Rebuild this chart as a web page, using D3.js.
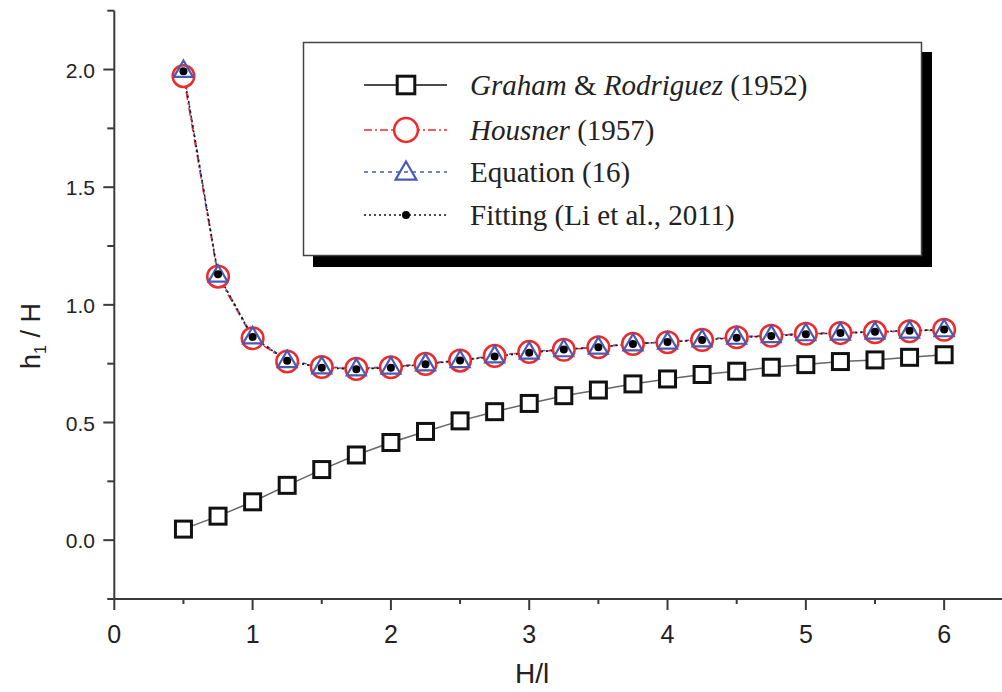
<!DOCTYPE html>
<html><head><meta charset="utf-8">
<script src="https://cdn.jsdelivr.net/npm/d3@7"></script>
<style>body{margin:0;background:#fff} svg{display:block}</style>
</head><body><svg id="c" width="1002" height="692"></svg>
<script>
// ---- data ----
const xValues   = [0.5,0.75,1.0,1.25,1.5,1.75,2.0,2.25,2.5,2.75,3.0,3.25,3.5,3.75,4.0,4.25,4.5,4.75,5.0,5.25,5.5,5.75,6.0];
const graham    = [0.047,0.102,0.163,0.233,0.300,0.362,0.415,0.462,0.507,0.546,0.581,0.614,0.638,0.664,0.685,0.704,0.718,0.735,0.746,0.759,0.766,0.777,0.788];
const housner   = [1.972,1.120,0.858,0.759,0.736,0.728,0.735,0.749,0.763,0.783,0.800,0.809,0.820,0.834,0.841,0.851,0.862,0.869,0.877,0.880,0.884,0.888,0.894];
const equation16= [1.998,1.128,0.866,0.765,0.738,0.730,0.737,0.751,0.765,0.785,0.801,0.811,0.822,0.836,0.843,0.853,0.864,0.871,0.879,0.882,0.886,0.890,0.896];
const fitting   = [1.993,1.130,0.863,0.762,0.733,0.726,0.733,0.748,0.764,0.781,0.796,0.810,0.820,0.834,0.842,0.851,0.860,0.868,0.875,0.880,0.886,0.890,0.895];
const xTicks = [0,1,2,3,4,5,6];
const xMinorTicks = [0.5,1.5,2.5,3.5,4.5,5.5];
const yTicks = [0,0.5,1.0,1.5,2.0];
const yMinorTicks = [-0.25,0.25,0.75,1.25,1.75,2.25];
const legendLabels = [
  [["Graham",true],[" & ",false],["Rodriguez",true],[" (1952)",false]],
  [["Housner",true],[" (1957)",false]],
  [["Equation (16)",false]],
  [["Fitting (Li et al., 2011)",false]]
];
const xTitle = "H/l";

// ---- layout ----
const svg = d3.select("#c");
const x = d3.scaleLinear().domain([0,6.5]).range([114.3,1013.3]);
const y = d3.scaleLinear().domain([-0.25,2.25]).range([599,10.7]);
const AX = "#3a3a3a";

const series = [
  {vals:graham, color:"#666", dash:null, w:1.5, marker:"square"},
  {vals:housner, color:"#ee2a2a", dash:"8,3,2,3", w:1.5, marker:"circle"},
  {vals:equation16, color:"#4a5ab5", dash:"4,4", w:1.5, marker:"triangle"},
  {vals:fitting, color:"#111", dash:"2,3", w:1.5, marker:"dot"}
];

function triPath(s){const h=s*0.866;return `M0,${-h*0.58}L${s/2},${h*0.42}L${-s/2},${h*0.42}Z`;}
function drawMarker(g, type, cx, cy, big){
  const k = big?1.1:1;
  if(type==="square"){
    g.append("rect").attr("x",cx-8*k).attr("y",cy-8*k).attr("width",16*k).attr("height",16*k)
      .attr("fill","#fff").attr("stroke","#111").attr("stroke-width",3);
  } else if(type==="circle"){
    g.append("circle").attr("cx",cx).attr("cy",cy).attr("r",10.8*k)
      .attr("fill","#fff").attr("stroke","#ee2a2a").attr("stroke-width",2.5);
  } else if(type==="triangle"){
    g.append("path").attr("d",triPath(19*k)).attr("transform",`translate(${cx},${cy})`)
      .attr("fill","none").attr("stroke","#4a5ab5").attr("stroke-width",2.2);
  } else {
    g.append("circle").attr("cx",cx).attr("cy",cy).attr("r",4)
      .attr("fill","#000");
  }
}

// axes lines
const axG = svg.append("g");
axG.append("line").attr("x1",x(0)).attr("x2",1002).attr("y1",y(-0.25)).attr("y2",y(-0.25)).attr("stroke",AX).attr("stroke-width",2);
axG.append("line").attr("x1",x(0)).attr("x2",x(0)).attr("y1",y(2.25)).attr("y2",y(-0.25)).attr("stroke",AX).attr("stroke-width",2);

// x ticks
axG.selectAll(".xt").data(xTicks).join("line").attr("x1",d=>x(d)).attr("x2",d=>x(d))
  .attr("y1",y(-0.25)).attr("y2",y(-0.25)+11).attr("stroke",AX).attr("stroke-width",2);
axG.selectAll(".xm").data(xMinorTicks).join("line").attr("x1",d=>x(d)).attr("x2",d=>x(d))
  .attr("y1",y(-0.25)).attr("y2",y(-0.25)+5).attr("stroke",AX).attr("stroke-width",2);
axG.selectAll(".xl").data(xTicks).join("text").attr("x",d=>x(d)).attr("y",643)
  .attr("text-anchor","middle").attr("font-family","Liberation Sans, Arial, sans-serif")
  .attr("font-size",25).attr("fill","#222").text(d=>d);

// y ticks
axG.selectAll(".yt").data(yTicks).join("line").attr("x1",x(0)-11).attr("x2",x(0))
  .attr("y1",d=>y(d)).attr("y2",d=>y(d)).attr("stroke",AX).attr("stroke-width",2);
axG.selectAll(".ym").data(yMinorTicks).join("line").attr("x1",x(0)-7).attr("x2",x(0))
  .attr("y1",d=>y(d)).attr("y2",d=>y(d)).attr("stroke",AX).attr("stroke-width",2);
axG.selectAll(".yl").data(yTicks).join("text").attr("x",95).attr("y",d=>y(d)+8)
  .attr("text-anchor","end").attr("font-family","Liberation Sans, Arial, sans-serif")
  .attr("font-size",21).attr("fill","#222").text(d=>d.toFixed(1));

// axis titles
svg.append("text").attr("x",x(3)+3).attr("y",683).attr("text-anchor","middle")
  .attr("font-family","Liberation Sans, Arial, sans-serif").attr("font-size",28).attr("fill","#222").text(xTitle);
const yt = svg.append("text").attr("transform",`translate(40,336) rotate(-90)`).attr("text-anchor","middle")
  .attr("font-family","Liberation Sans, Arial, sans-serif").attr("font-size",27).attr("fill","#222");
yt.append("tspan").text("h");
yt.append("tspan").attr("font-size",16).attr("dy",6).text("1");
yt.append("tspan").attr("dy",-6).text(" / H");

// lines
const line = d3.line().x((d,i)=>x(xValues[i])).y(d=>y(d));
const plotG = svg.append("g");
series.forEach(s=>{
  plotG.append("path").datum(s.vals).attr("d",line).attr("fill","none")
    .attr("stroke",s.color).attr("stroke-width",s.w).attr("stroke-dasharray",s.dash);
});
series.forEach(s=>{
  const g = plotG.append("g");
  s.vals.forEach((v,i)=>drawMarker(g,s.marker,x(xValues[i]),y(v),false));
});

// legend
const lg = svg.append("g");
lg.append("rect").attr("x",313).attr("y",52).attr("width",619).attr("height",215).attr("fill","#000");
lg.append("rect").attr("x",303.5).attr("y",42.5).attr("width",618).attr("height",213).attr("fill","#fff")
  .attr("stroke","#444").attr("stroke-width",1.5);
const rowY = [85,130,172,215];
series.forEach((s,i)=>{
  const cy = rowY[i];
  lg.append("line").attr("x1",364).attr("x2",447).attr("y1",cy).attr("y2",cy)
    .attr("stroke",i===0?"#111":s.color).attr("stroke-width",1.5).attr("stroke-dasharray",s.dash);
  drawMarker(lg,s.marker,406,cy,true);
  const t = lg.append("text").attr("x",470).attr("y",cy+10)
    .attr("font-family","Liberation Serif, 'Times New Roman', serif").attr("font-size",29).attr("fill","#222");
  legendLabels[i].forEach(p=>t.append("tspan").attr("font-style",p[1]?"italic":"normal").text(p[0]));
});
</script></body></html>
